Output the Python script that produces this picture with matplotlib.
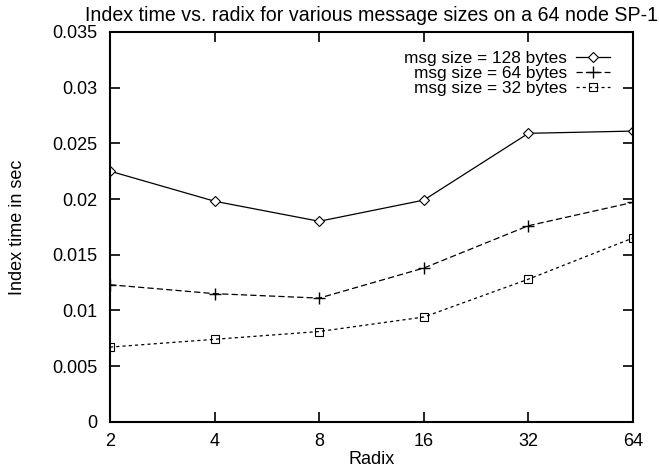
import matplotlib
matplotlib.use("Agg")
import matplotlib.pyplot as plt

# data
radix = [2, 4, 8, 16, 32, 64]
t_128 = [0.0225, 0.0198, 0.0180, 0.0199, 0.0259, 0.0261]
t_64 = [0.0123, 0.0115, 0.0111, 0.0138, 0.0176, 0.0197]
t_32 = [0.0067, 0.0074, 0.0081, 0.0094, 0.0128, 0.0165]
yticks = [0, 0.005, 0.01, 0.015, 0.02, 0.025, 0.03, 0.035]
ytick_labels = ["0", "0.005", "0.01", "0.015", "0.02", "0.025", "0.03", "0.035"]

plt.rcParams['font.family'] = ['Liberation Sans', 'DejaVu Sans']
plt.rcParams['font.size'] = 13

fig = plt.figure(figsize=(6.59, 4.67), dpi=100)
ax = fig.add_axes([0.167, 0.097, 0.7935, 0.8345])

ax.plot(radix, t_128, color='black', lw=0.9, ls='-', marker='D', ms=5,
        mfc='white', mec='black', mew=0.8, label='msg size = 128 bytes')
ax.plot(radix, t_64, color='black', lw=0.9, ls=(0, (5, 2.5)), marker='+', ms=8,
        mew=1.0, label='msg size = 64 bytes')
ax.plot(radix, t_32, color='black', lw=0.9, ls=(0, (2.5, 2.5)), marker='s', ms=6,
        mfc='none', mec='black', mew=0.8, label='msg size = 32 bytes')

ax.set_xscale('log', base=2)
ax.set_xlim(2, 64)
ax.set_xticks(radix)
ax.set_xticklabels([str(r) for r in radix])
ax.minorticks_off()
ax.set_ylim(0, 0.035)
ax.set_yticks(yticks)
ax.set_yticklabels(ytick_labels)

ax.tick_params(direction='in', length=7, width=1.2, top=True, right=True)
ax.tick_params(axis='y', pad=9)
ax.tick_params(axis='x', pad=8)
for sp in ax.spines.values():
    sp.set_linewidth(1.5)

ax.set_xlabel('Radix')
ax.xaxis.set_label_coords(0.5, -0.075)
ax.set_ylabel('Index time in sec')
ax.yaxis.set_label_coords(-0.16, 0.5)
ax.set_title('Index time vs. radix for various message sizes on a 64 node SP-1',
             fontsize=14.1, pad=8)

leg = ax.legend(loc='upper right', frameon=False, markerfirst=False, fontsize=12.4,
                handlelength=2.0, handletextpad=0.5, labelspacing=0.0,
                borderaxespad=0.0, bbox_to_anchor=(0.97, 0.97))
for t in leg.get_texts():
    t.set_ha('right')
leg._legend_box.align = 'right'

fig.savefig('out.png', dpi=100)
